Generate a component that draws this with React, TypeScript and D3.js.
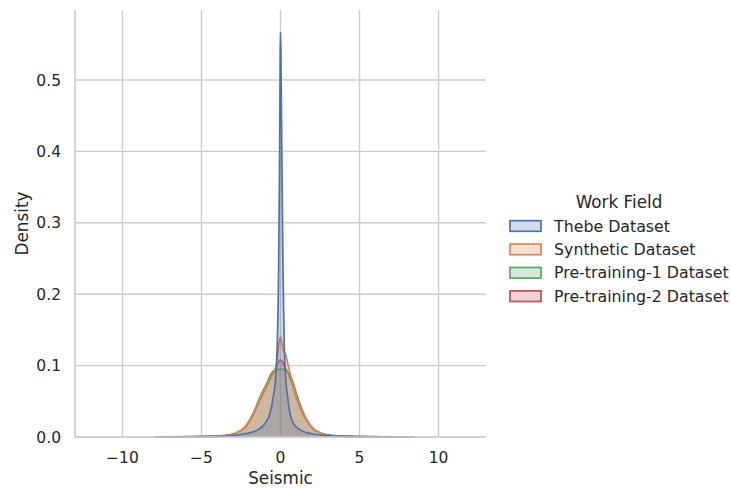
import React from "react";
import * as d3 from "d3";

const seriesNames = ["Thebe Dataset", "Synthetic Dataset", "Pre-training-1 Dataset", "Pre-training-2 Dataset"];
const seriesColors = ["#4C72B0", "#DD8452", "#55A868", "#C44E52"];

const thebeX = [-8, -6, -4, -3, -2.25, -1.42, -0.98, -0.67, -0.46, -0.3, -0.22, -0.12, -0.06, -0.02, 0, 0.03, 0.09, 0.16, 0.24, 0.32, 0.45, 0.6, 0.81, 1.23, 1.97, 3, 4.5, 6.5, 8.5];
const thebeY = [0, 0.0004, 0.001, 0.002, 0.0045, 0.01, 0.019, 0.033, 0.056, 0.085, 0.12, 0.23, 0.38, 0.53, 0.567, 0.53, 0.38, 0.23, 0.125, 0.085, 0.056, 0.033, 0.019, 0.01, 0.0045, 0.002, 0.0008, 0.0003, 0];

const synthX = [-7, -5, -3.5, -2.9, -2.25, -1.73, -1.3, -0.8, -0.55, -0.41, -0.24, -0.14, -0.06, 0, 0.1, 0.2, 0.28, 0.45, 0.7, 1.0, 1.42, 1.97, 2.6, 3.3, 5, 7.5];
const synthY = [0, 0.0005, 0.002, 0.005, 0.014, 0.033, 0.054, 0.075, 0.085, 0.09, 0.104, 0.122, 0.136, 0.14, 0.13, 0.12, 0.118, 0.104, 0.08, 0.056, 0.033, 0.014, 0.005, 0.002, 0.0005, 0];

const pre1X = [-6, -4.5, -3.5, -2.9, -2.25, -1.73, -1.3, -0.87, -0.56, -0.3, 0, 0.3, 0.55, 0.8, 1.05, 1.45, 1.97, 2.6, 3.3, 4.5, 6];
const pre1Y = [0, 0.0008, 0.002, 0.005, 0.014, 0.033, 0.056, 0.075, 0.09, 0.094, 0.095, 0.094, 0.088, 0.076, 0.058, 0.034, 0.014, 0.005, 0.002, 0.0007, 0];

const pre2X = [-7, -5, -3.5, -2.9, -2.25, -1.73, -1.3, -0.85, -0.5, -0.3, -0.15, 0, 0.15, 0.3, 0.5, 0.7, 1.0, 1.42, 1.97, 2.6, 3.3, 5, 7];
const pre2Y = [0, 0.0005, 0.002, 0.005, 0.013, 0.031, 0.052, 0.072, 0.088, 0.096, 0.104, 0.108, 0.104, 0.097, 0.088, 0.077, 0.055, 0.032, 0.013, 0.005, 0.002, 0.0005, 0];

const xTicks = [-10, -5, 0, 5, 10];
const yTicks = [0, 0.1, 0.2, 0.3, 0.4, 0.5];

const seriesXs = [thebeX, synthX, pre1X, pre2X];
const seriesYs = [thebeY, synthY, pre1Y, pre2Y];

const W = 731, H = 489;
const L = 75, R = 486, T = 10, B = 437;
const FONT = "DejaVu Sans, sans-serif";
const TXT = "#262626";

export default function App() {
  const x = d3.scaleLinear().domain([-13, 13]).range([L, R]);
  const y = d3.scaleLinear().domain([0, 0.598]).range([B, T]);
  const fmtY = (v: number) => v.toFixed(1);
  const fmtX = (v: number) => (v < 0 ? "\u2212" + Math.abs(v) : String(v));

  const order = [3, 2, 1, 0];
  return (
    <svg width={W} height={H} style={{ position: "absolute", left: 0, top: 0, background: "#fff" }}>
      <rect x={0} y={0} width={W} height={H} fill="#fff" />
      {xTicks.map((t) => (
        <line key={"gx" + t} x1={x(t)} x2={x(t)} y1={T} y2={B} stroke="#cccccc" strokeWidth={1.4} />
      ))}
      {yTicks.map((t) => (
        <line key={"gy" + t} x1={L} x2={R} y1={y(t)} y2={y(t)} stroke="#cccccc" strokeWidth={1.4} />
      ))}
      {order.map((i) => {
        const pts = seriesXs[i].map((xv, k) => [xv, seriesYs[i][k]] as [number, number]);
        const area = d3.area<[number, number]>().x((d) => x(d[0])).y0(y(0)).y1((d) => y(d[1])).curve(d3.curveMonotoneX);
        const line = d3.line<[number, number]>().x((d) => x(d[0])).y((d) => y(d[1])).curve(d3.curveMonotoneX);
        return (
          <g key={"s" + i}>
            <path d={area(pts) || ""} fill={seriesColors[i]} fillOpacity={0.25} stroke="none" />
            <path d={line(pts) || ""} fill="none" stroke={seriesColors[i]} strokeWidth={1.7} strokeLinejoin="round" />
          </g>
        );
      })}
      <line x1={L} x2={L} y1={T} y2={B} stroke="#cccccc" strokeWidth={1.7} />
      <line x1={L} x2={R} y1={B} y2={B} stroke="#cccccc" strokeWidth={1.7} />
      {xTicks.map((t) => (
        <text key={"tx" + t} x={x(t)} y={463} textAnchor="middle" fontFamily={FONT} fontSize={15.5} fill={TXT}>
          {fmtX(t)}
        </text>
      ))}
      {yTicks.map((t) => (
        <text key={"ty" + t} x={61} y={y(t)} dy="0.36em" textAnchor="end" fontFamily={FONT} fontSize={15.5} fill={TXT}>
          {fmtY(t)}
        </text>
      ))}
      <text x={x(0)} y={484} textAnchor="middle" fontFamily={FONT} fontSize={16.8} fill={TXT}>
        Seismic
      </text>
      <text transform={`translate(28,${(T + B) / 2}) rotate(-90)`} textAnchor="middle" fontFamily={FONT} fontSize={16.8} fill={TXT}>
        Density
      </text>
      <text x={619} y={208} textAnchor="middle" fontFamily={FONT} fontSize={16.8} fill={TXT}>
        Work Field
      </text>
      {seriesNames.map((n, i) => {
        const cy = 226 + i * 23.4;
        return (
          <g key={"lg" + i}>
            <rect x={510} y={cy - 5.3} width={31} height={10.6} fill={seriesColors[i]} fillOpacity={0.25} stroke={seriesColors[i]} strokeWidth={1.7} />
            <text x={554} y={cy} dy="0.36em" fontFamily={FONT} fontSize={15.8} fill={TXT}>
              {n}
            </text>
          </g>
        );
      })}
    </svg>
  );
}
